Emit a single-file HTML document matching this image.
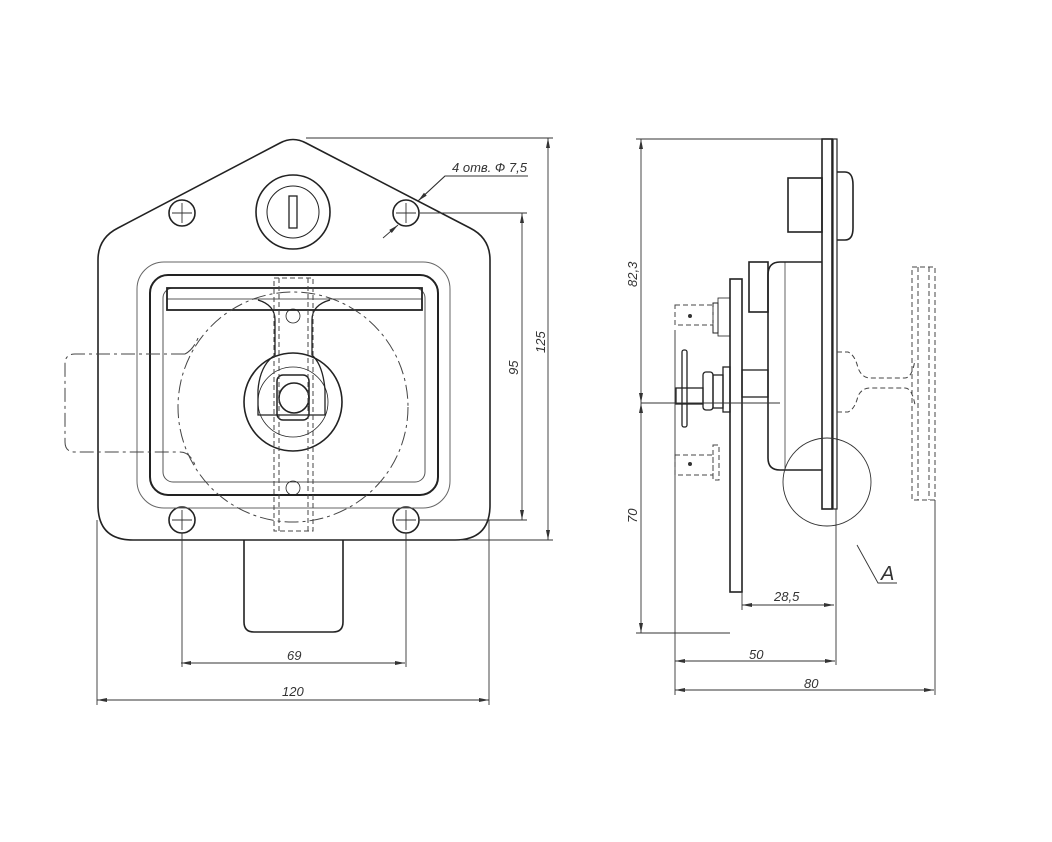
<!DOCTYPE html>
<html><head><meta charset="utf-8"><style>
html,body{margin:0;padding:0;background:#fff;}
svg{display:block}
text{font-family:"Liberation Sans",sans-serif;font-style:italic;fill:#333;}
</style></head><body>
<svg width="1052" height="842" viewBox="0 0 1052 842" xmlns="http://www.w3.org/2000/svg">
<defs>
<marker id="ar" viewBox="0 0 10 6" refX="10" refY="3" markerWidth="10" markerHeight="6" orient="auto-start-reverse" markerUnits="userSpaceOnUse"><path d="M0,1 L10,3 L0,5 Z" fill="#333"/></marker>
</defs>
<g fill="none" stroke="#222" stroke-width="1.6">
<!-- FRONT VIEW -->
<path d="M280,143 Q293,136 306,143 L470,228 Q490,238 490,260 L490,505 Q490,540 455,540 L133,540 Q98,540 98,505 L98,260 Q98,238 118,228 Z"/>
<circle cx="182" cy="213" r="13"/><circle cx="406" cy="213" r="13"/>
<circle cx="182" cy="520" r="13"/><circle cx="406" cy="520" r="13"/>
<circle cx="293" cy="212" r="37"/>
<circle cx="293" cy="212" r="26" stroke-width="1"/>
<rect x="289" y="196" width="8" height="32" stroke-width="1.3"/>
<rect x="137" y="262" width="313" height="246" rx="27" stroke-width="1" stroke="#666"/>
<rect x="150" y="275" width="288" height="220" rx="18" stroke-width="2"/>
<rect x="163" y="288" width="262" height="194" rx="10" stroke-width="1" stroke="#555"/>
<rect x="167" y="288" width="255" height="22" stroke-width="1.8"/>
<line x1="167" y1="299" x2="422" y2="299" stroke-width="0.8"/>
<!-- stem -->
<path d="M258,300 Q275,305 275,320 L275,355 Q260,365 258,390 L258,415 L325,415 L325,390 Q323,365 312,355 L312,320 Q312,305 330,300" stroke-width="1.3"/>
<circle cx="293" cy="402" r="49"/>
<circle cx="293" cy="402" r="35" stroke-width="0.8"/>
<rect x="277" y="375" width="32" height="45" rx="6" stroke-width="1.5"/>
<circle cx="294" cy="398" r="15"/>
<circle cx="293" cy="316" r="7" stroke-width="0.8"/>
<circle cx="293" cy="488" r="7" stroke-width="0.8"/>
<!-- T handle -->
<path d="M244,540 L244,622 Q244,632 254,632 L333,632 Q343,632 343,622 L343,540"/>
</g>
<g fill="none" stroke="#444" stroke-width="1" stroke-dasharray="14,4,3,4">
<circle cx="293" cy="407" r="115"/>
<path d="M185,354 L75,354 Q65,354 65,364 L65,442 Q65,452 75,452 L180,452 Q190,452 195,465"/>
<path d="M185,354 Q193,350 198,338"/>
</g>
<g fill="none" stroke="#444" stroke-width="1" stroke-dasharray="5,3">
<rect x="274" y="278" width="39" height="253"/>
<line x1="279" y1="278" x2="279" y2="531"/><line x1="308" y1="278" x2="308" y2="531"/>
</g>
<g stroke="#333" stroke-width="0.9" fill="none">
<!-- crosshairs -->
<path d="M172,213h20M182,203v20M396,213h20M406,203v20M172,520h20M182,510v20M396,520h20M406,510v20"/>
<!-- extension lines -->
<line x1="182" y1="533" x2="182" y2="667"/><line x1="406" y1="533" x2="406" y2="667"/>
<line x1="97" y1="520" x2="97" y2="705"/><line x1="489" y1="520" x2="489" y2="705"/>
<line x1="181" y1="663" x2="405" y2="663" marker-start="url(#ar)" marker-end="url(#ar)"/>
<line x1="97" y1="700" x2="489" y2="700" marker-start="url(#ar)" marker-end="url(#ar)"/>
<line x1="420" y1="213" x2="527" y2="213"/><line x1="420" y1="520" x2="527" y2="520"/>
<line x1="522" y1="213" x2="522" y2="520" marker-start="url(#ar)" marker-end="url(#ar)"/>
<line x1="306" y1="138" x2="553" y2="138"/><line x1="460" y1="540" x2="553" y2="540"/>
<line x1="548" y1="138" x2="548" y2="540" marker-start="url(#ar)" marker-end="url(#ar)"/>
<line x1="383" y1="238" x2="398" y2="225" marker-end="url(#ar)"/>
<line x1="445" y1="176" x2="418" y2="201" marker-end="url(#ar)"/>
<polyline points="418,201 445,176 528,176"/>
</g>
<text x="452" y="172" font-size="13">4 отв. Ф 7,5</text>
<text x="287" y="660" font-size="13">69</text>
<text x="282" y="696" font-size="13">120</text>
<text transform="translate(518,375) rotate(-90)" font-size="13">95</text>
<text transform="translate(545,353) rotate(-90)" font-size="13">125</text>

<!-- SIDE VIEW -->
<g fill="none" stroke="#222" stroke-width="1.6">
<rect x="822" y="139" width="10" height="370"/>
<rect x="833" y="139" width="4" height="370" stroke-width="1.2"/>
<rect x="788" y="178" width="34" height="54"/>
<path d="M837,172 L845,172 Q853,172 853,185 L853,228 Q853,240 845,240 L837,240"/>
<path d="M822,262 L780,262 Q768,262 768,275 L768,458 Q768,470 780,470 L822,470"/>
<line x1="785" y1="262" x2="785" y2="470" stroke-width="0.7"/>
<rect x="749" y="262" width="19" height="50"/>
<rect x="730" y="279" width="12" height="313"/>
<rect x="742" y="370" width="26" height="27" stroke-width="1.3"/>
<rect x="723" y="367" width="7" height="45" stroke-width="1.3"/>
<rect x="713" y="375" width="10" height="33" stroke-width="1.3"/>
<rect x="703" y="372" width="10" height="38" rx="3" stroke-width="1.3"/>
<rect x="676" y="388" width="27" height="16" stroke-width="1.3"/>
<rect x="682" y="350" width="5" height="77" rx="2" stroke-width="1.3"/>
<rect x="713" y="303" width="5" height="30" stroke-width="1"/>
<rect x="718" y="298" width="12" height="38" stroke-width="0.8"/>
</g>
<g fill="none" stroke="#444" stroke-width="1" stroke-dasharray="5,3">
<rect x="675" y="305" width="38" height="20"/>
<rect x="675" y="455" width="38" height="20"/>
<rect x="713" y="445" width="6" height="35"/>
<rect x="912" y="267" width="23" height="233"/>
<line x1="918" y1="267" x2="918" y2="500"/><line x1="929" y1="267" x2="929" y2="500"/>
<path d="M837,352 L848,352 Q855,355 858,368 Q862,378 870,378 L905,378 Q912,378 915,360"/>
<path d="M837,412 L848,412 Q855,409 858,396 Q862,388 870,388 L905,388 Q912,388 915,405"/>
</g>
<circle cx="690" cy="316" r="2" fill="#333"/><circle cx="690" cy="464" r="2" fill="#333"/>
<g stroke="#333" stroke-width="0.9" fill="none">
<circle cx="827" cy="482" r="44"/>
<polyline points="857,545 878,583 897,583"/>
<line x1="641" y1="403" x2="780" y2="403"/>
<line x1="636" y1="139" x2="822" y2="139"/>
<line x1="636" y1="633" x2="730" y2="633"/>
<line x1="641" y1="139" x2="641" y2="403" marker-start="url(#ar)" marker-end="url(#ar)"/>
<line x1="641" y1="403" x2="641" y2="633" marker-start="url(#ar)" marker-end="url(#ar)"/>
<line x1="675" y1="330" x2="675" y2="695"/>
<line x1="836" y1="509" x2="836" y2="665"/>
<line x1="935" y1="500" x2="935" y2="695"/>
<line x1="742" y1="592" x2="742" y2="610"/>
<line x1="742" y1="605" x2="834" y2="605" marker-start="url(#ar)" marker-end="url(#ar)"/>
<line x1="675" y1="661" x2="835" y2="661" marker-start="url(#ar)" marker-end="url(#ar)"/>
<line x1="675" y1="690" x2="934" y2="690" marker-start="url(#ar)" marker-end="url(#ar)"/>
</g>
<text x="774" y="601" font-size="13">28,5</text>
<text x="749" y="659" font-size="13">50</text>
<text x="804" y="688" font-size="13">80</text>
<text x="881" y="580" font-size="20">A</text>
<text transform="translate(637,287) rotate(-90)" font-size="13">82,3</text>
<text transform="translate(637,523) rotate(-90)" font-size="13">70</text>
</svg>
</body></html>
